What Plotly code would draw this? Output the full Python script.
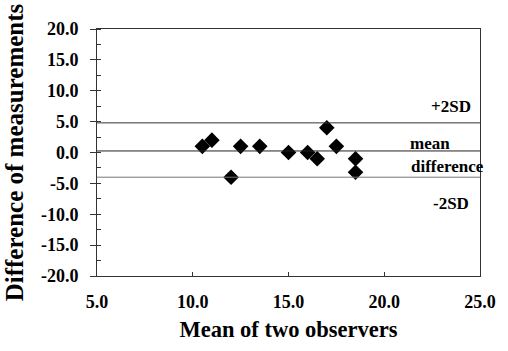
import plotly.graph_objects as go

# Data
mean_obs = [10.5, 11.0, 12.0, 12.5, 13.5, 15.0, 16.0, 16.5, 17.0, 17.5, 18.5, 18.5]
diff_obs = [1.0, 2.0, -4.0, 1.0, 1.0, 0.0, 0.0, -1.0, 4.0, 1.0, -1.0, -3.2]
mean_diff = 0.25
upper_limit = 4.8
lower_limit = -4.0

x_ticks = [5, 10, 15, 20, 25]
y_ticks = [-20, -15, -10, -5, 0, 5, 10, 15, 20]
label_texts = ["+2SD", "mean", "difference", "-2SD"]

font_family = "Liberation Serif, Times New Roman, serif"

fig = go.Figure()
fig.add_trace(go.Scatter(
    x=mean_obs, y=diff_obs, mode="markers",
    marker=dict(symbol="diamond", size=12, color="black"),
    showlegend=False,
))

for yv, col in [(upper_limit, "#333333"), (mean_diff, "#222222"), (lower_limit, "#777777")]:
    fig.add_shape(type="line", xref="paper", x0=0, x1=1, yref="y", y0=yv, y1=yv,
                  line=dict(color=col, width=1))

ann_pos = [(23.48, 7.5), (22.4, 1.4), (23.3, -2.2), (23.48, -8.3)]
for txt, (ax, ay) in zip(label_texts, ann_pos):
    fig.add_annotation(x=ax, y=ay, xref="x", yref="y", text=txt,
                       showarrow=False,
                       font=dict(family=font_family, size=17, color="black", weight="bold"))

fig.update_layout(
    width=508, height=351,
    margin=dict(l=97, r=16, t=29, b=75),
    paper_bgcolor="white", plot_bgcolor="white",
    font=dict(family=font_family, color="black"),
)
fig.update_xaxes(
    range=[5, 25], tickvals=x_ticks, ticktext=["%.1f" % v for v in x_ticks],
    tickfont=dict(size=18, weight="bold"), ticks="inside", ticklen=4, tickcolor="#333",
    showline=True, linecolor="#333", linewidth=1, mirror=True, showgrid=False,
    zeroline=False, ticklabelstandoff=9,
    title=dict(text="Mean of two observers", font=dict(size=22.5, weight="bold"), standoff=10),
)
fig.update_yaxes(
    range=[-20, 20], tickvals=y_ticks, ticktext=["%.1f" % v for v in y_ticks],
    tickfont=dict(size=18, weight="bold"), ticks="outside", ticklen=6, tickcolor="#333",
    minor=dict(ticks="inside", ticklen=4, dtick=2.5, tickcolor="#333"),
    showline=True, linecolor="#333", linewidth=1, mirror=True, showgrid=False,
    zeroline=False, ticklabelstandoff=8,
    title=dict(text="Difference of measurements", font=dict(size=25, weight="bold"), standoff=10),
)

fig.write_html("out.html")
